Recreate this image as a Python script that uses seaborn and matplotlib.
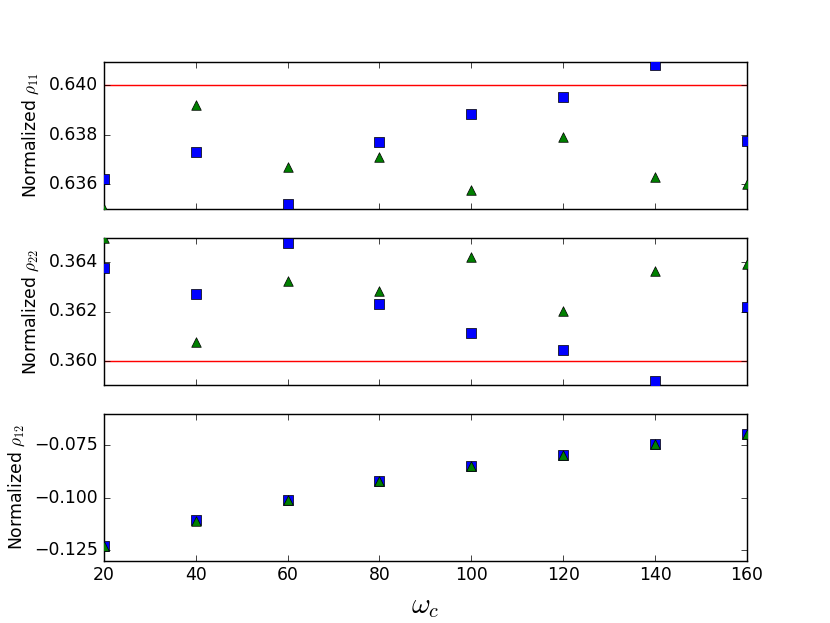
import matplotlib
matplotlib.use("Agg")
import matplotlib.pyplot as plt
import seaborn as sns
from matplotlib.ticker import FixedLocator, FuncFormatter

plt.style.use("classic")
plt.rcParams["mathtext.fontset"] = "cm"
plt.rcParams["font.family"] = ["DejaVu Sans"]

omega = [20, 40, 60, 80, 100, 120, 140, 160]

rho11_sq = [0.63619, 0.63728, 0.63517, 0.63769, 0.63884, 0.63952, 0.64082, 0.63776]
rho11_tri = [0.63500, 0.63918, 0.63669, 0.63710, 0.63574, 0.63792, 0.63630, 0.63599]
rho11_ref = 0.640

rho22_sq = [0.36373, 0.36269, 0.36474, 0.36229, 0.36112, 0.36045, 0.35922, 0.36219]
rho22_tri = [0.36494, 0.36078, 0.36322, 0.36283, 0.36418, 0.36203, 0.36363, 0.36391]
rho22_ref = 0.360

rho12_sq = [-0.12293, -0.11070, -0.10086, -0.09214, -0.08500, -0.07976, -0.07420, -0.06976]
rho12_tri = [-0.12310, -0.11080, -0.10090, -0.09220, -0.08510, -0.07980, -0.07430, -0.06980]

ylabels = [r"Normalized $\rho_{11}$", r"Normalized $\rho_{22}$", r"Normalized $\rho_{12}$"]
yticks = [[0.636, 0.638, 0.640], [0.360, 0.362, 0.364], [-0.125, -0.100, -0.075]]
ylims = [(0.63499, 0.64093), (0.35906, 0.36494), (-0.1299, -0.0602)]
xticks = [20, 40, 60, 80, 100, 120, 140, 160]

dpi = 103.75
fig, axes = plt.subplots(3, 1, sharex=True, figsize=(830 / dpi, 623 / dpi), dpi=dpi)
fig.patch.set_facecolor("white")

series = [(rho11_sq, rho11_tri, rho11_ref), (rho22_sq, rho22_tri, rho22_ref), (rho12_sq, rho12_tri, None)]

fmt = FuncFormatter(lambda v, p: ("%.3f" % v).replace("-", "\u2212"))

for ax, (sq, tri, ref), lab, yt, yl in zip(axes, series, ylabels, yticks, ylims):
    if ref is not None:
        ax.axhline(ref, color="r", lw=1.0, zorder=1)
    sns.scatterplot(x=omega, y=sq, marker="s", color="b", edgecolor="k",
                    linewidth=0.5, s=40, ax=ax, legend=False, zorder=3)
    sns.scatterplot(x=omega, y=tri, marker="^", color="g", edgecolor="k",
                    linewidth=0.5, s=44, ax=ax, legend=False, zorder=4)
    ax.set_ylim(*yl)
    ax.set_xlim(20, 160)
    ax.yaxis.set_major_locator(FixedLocator(yt))
    ax.yaxis.set_major_formatter(fmt)
    ax.xaxis.set_major_locator(FixedLocator(xticks))
    ax.set_ylabel(lab, fontsize=12)
    ax.tick_params(labelsize=12)
    ax.set_facecolor("white")

axes[-1].set_xlabel(r"$\omega_c$", fontsize=20)

fig.savefig("out.png", dpi=dpi, facecolor="white")
